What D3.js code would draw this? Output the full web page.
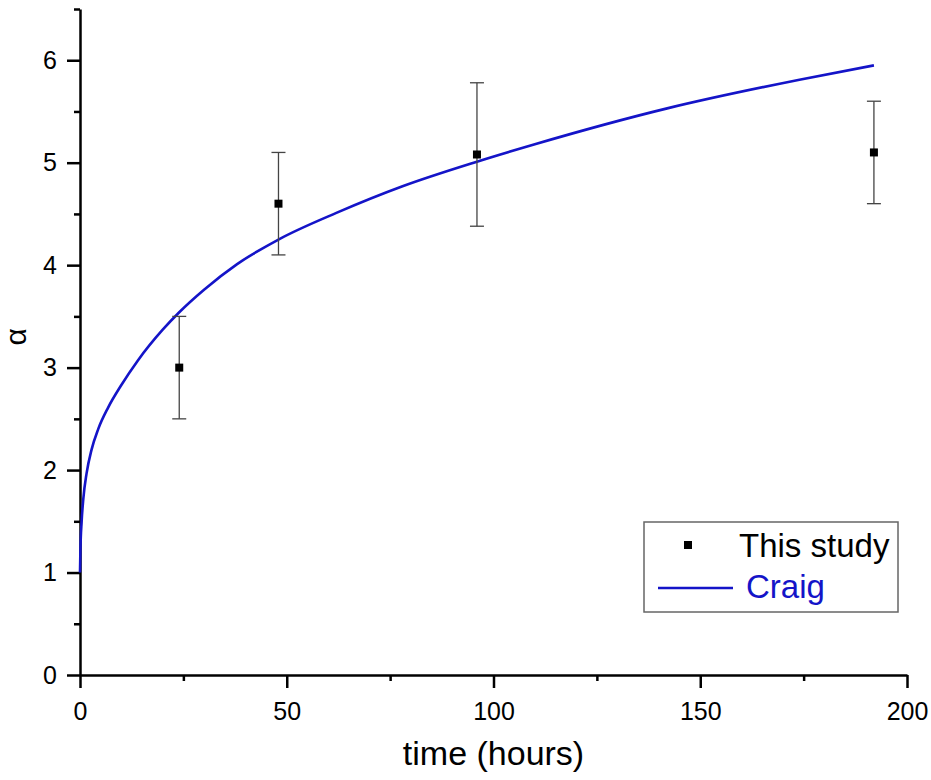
<!DOCTYPE html>
<html>
<head>
<meta charset="utf-8">
<script src="https://cdn.jsdelivr.net/npm/d3@7"></script>
<style>
  body { margin: 0; background: #fff; }
  svg { display: block; font-family: Arial, "Liberation Sans", sans-serif; }
</style>
</head>
<body>
<svg id="chart" width="931" height="780"></svg>
<script>
// measured points (this study) with error bars
const studyTime = [24, 48, 96, 192];
const studyAlpha = [3.0, 4.6, 5.08, 5.1];
const studyErr = [0.5, 0.5, 0.7, 0.5];

// Craig curve
const craigTime = [0, 0.1, 0.4, 0.8, 1.6, 2.8, 4.4, 6.8, 10, 14, 20, 24, 30, 38, 48, 62, 78, 96, 110, 142, 174, 192];
const craigAlpha = [1.0, 1.22, 1.5, 1.72, 1.97, 2.2, 2.4, 2.61, 2.83, 3.07, 3.37, 3.54, 3.76, 4.01, 4.25, 4.51, 4.77, 5.01, 5.18, 5.53, 5.81, 5.95];

const xMajor = [0, 50, 100, 150, 200];
const xMinor = [25, 75, 125, 175];
const yMajor = [0, 1, 2, 3, 4, 5, 6];
const yMinor = [0.5, 1.5, 2.5, 3.5, 4.5, 5.5, 6.5];

const legendItems = ["This study", "Craig"];

let svg = d3.select("#chart");
let margin = {left: 80, right: 24, top: 9, bottom: 105};
let width = 931, height = 780;

let x = d3.scaleLinear().domain([0, 200]).range([margin.left, 907]);
let y = d3.scaleLinear().domain([0, 6.5]).range([height - margin.bottom, margin.top]);

let blue = "#1414c8";

// axes
let axisX = svg.append("g").attr("transform", `translate(0,${y(0)})`);
axisX.call(d3.axisBottom(x).tickValues(xMajor).tickSize(13).tickSizeOuter(0).tickPadding(14).tickFormat(d3.format("d")));
let minorX = svg.append("g").attr("transform", `translate(0,${y(0)})`);
minorX.call(d3.axisBottom(x).tickValues(xMinor).tickSize(6).tickSizeOuter(0).tickFormat(""));
minorX.select(".domain").remove();

let axisY = svg.append("g").attr("transform", `translate(${x(0)},0)`);
axisY.call(d3.axisLeft(y).tickValues(yMajor).tickSize(13).tickSizeOuter(0).tickPadding(10).tickFormat(d3.format("d")));
let minorY = svg.append("g").attr("transform", `translate(${x(0)},0)`);
minorY.call(d3.axisLeft(y).tickValues(yMinor).tickSize(6).tickSizeOuter(0).tickFormat(""));
minorY.select(".domain").remove();

svg.selectAll(".domain").attr("stroke", "#000").attr("stroke-width", 2.5);
svg.selectAll(".tick line").attr("stroke", "#000").attr("stroke-width", 2.5);
svg.selectAll(".tick text").attr("font-size", 25).attr("fill", "#000")
  .attr("font-family", 'Arial, "Liberation Sans", sans-serif');

// axis titles
svg.append("text")
  .attr("x", x(100)).attr("y", 765)
  .attr("text-anchor", "middle").attr("font-size", 34)
  .text("time (hours)");
svg.append("text")
  .attr("transform", `translate(26,${y(3.3)}) rotate(-90)`)
  .attr("text-anchor", "middle").attr("font-size", 30)
  .text("α");

// Craig curve
let line = d3.line()
  .x(d => x(d[0]))
  .y(d => y(d[1]))
  .curve(d3.curveMonotoneX);
svg.append("path")
  .datum(d3.zip(craigTime, craigAlpha))
  .attr("fill", "none")
  .attr("stroke", blue)
  .attr("stroke-width", 2.6)
  .attr("d", line);

// error bars
let pts = d3.zip(studyTime, studyAlpha, studyErr);
let eb = svg.append("g").attr("stroke", "#444").attr("stroke-width", 1.3);
eb.selectAll("line.v").data(pts).join("line")
  .attr("x1", d => x(d[0])).attr("x2", d => x(d[0]))
  .attr("y1", d => y(d[1] - d[2])).attr("y2", d => y(d[1] + d[2]));
[-1, 1].forEach(s => {
  eb.selectAll(null).data(pts).join("line")
    .attr("x1", d => x(d[0]) - 7).attr("x2", d => x(d[0]) + 7)
    .attr("y1", d => y(d[1] + s * d[2])).attr("y2", d => y(d[1] + s * d[2]));
});

// markers
svg.append("g").selectAll("rect").data(pts).join("rect")
  .attr("x", d => x(d[0]) - 4).attr("y", d => y(d[1]) - 4)
  .attr("width", 8).attr("height", 8).attr("fill", "#000");

// legend
let lg = svg.append("g").attr("transform", "translate(644,522)");
lg.append("rect").attr("width", 254).attr("height", 90)
  .attr("fill", "#fff").attr("stroke", "#666").attr("stroke-width", 1.5);
lg.append("rect").attr("x", 40).attr("y", 19).attr("width", 8).attr("height", 8).attr("fill", "#000");
lg.append("line").attr("x1", 14).attr("x2", 89).attr("y1", 66).attr("y2", 66)
  .attr("stroke", blue).attr("stroke-width", 2.6);
lg.append("text").attr("x", 95).attr("y", 35).attr("font-size", 33).attr("fill", "#000").text(legendItems[0]);
lg.append("text").attr("x", 102).attr("y", 76).attr("font-size", 33).attr("fill", blue).text(legendItems[1]);
</script>
</body>
</html>
